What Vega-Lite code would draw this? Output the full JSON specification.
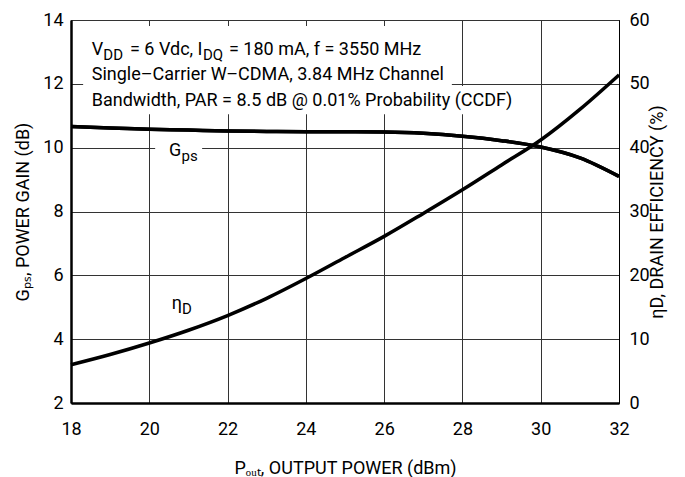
{
  "$schema": "https://vega.github.io/schema/vega-lite/v6.json",
  "autosize": {"type": "none"},
  "padding": {"left": 71, "top": 20, "right": 66, "bottom": 74},
  "width": 548,
  "height": 383,
  "background": "white",
  "config": {
    "view": {"stroke": "black", "strokeWidth": 1},
    "font": "Roboto",
    "axis": {
      "labelFont": "Roboto",
      "labelFontSize": 18,
      "labelColor": "black",
      "titleFont": "Roboto",
      "titleFontSize": 18,
      "titleFontWeight": "normal",
      "titleColor": "black",
      "ticks": false,
      "labelFlush": false,
      "labelOverlap": false,
      "gridColor": "#333333",
      "gridWidth": 1,
      "gridOpacity": 1,
      "domainColor": "black"
    }
  },
  "datasets": {
    "curves": [
      {"pout": 18, "gps": 10.66, "eff": 6.0},
      {"pout": 19, "gps": 10.62, "eff": 7.6},
      {"pout": 20, "gps": 10.58, "eff": 9.4},
      {"pout": 21, "gps": 10.55, "eff": 11.4},
      {"pout": 22, "gps": 10.52, "eff": 13.7},
      {"pout": 23, "gps": 10.51, "eff": 16.4},
      {"pout": 24, "gps": 10.50, "eff": 19.5},
      {"pout": 25, "gps": 10.50, "eff": 22.8},
      {"pout": 26, "gps": 10.49, "eff": 26.1},
      {"pout": 27, "gps": 10.45, "eff": 29.7},
      {"pout": 28, "gps": 10.36, "eff": 33.4},
      {"pout": 29, "gps": 10.22, "eff": 37.3},
      {"pout": 30, "gps": 10.02, "eff": 41.2},
      {"pout": 31, "gps": 9.68, "eff": 46.0},
      {"pout": 32, "gps": 9.10, "eff": 51.4}
    ],
    "boxes": [
      {"x1": 18.31, "x2": 27.73, "y1": 13.81, "y2": 11.93},
      {"x1": 18.31, "x2": 29.47, "y1": 11.93, "y2": 11.05},
      {"x1": 20.15, "x2": 21.35, "y1": 10.30, "y2": 9.46}
    ],
    "notes": [
      {"t": "V", "x": 18.529, "y": 12.912, "k": "main"},
      {"t": "= 6 Vdc, I", "x": 19.507, "y": 12.912, "k": "main"},
      {"t": "= 180 mA, f = 3550 MHz", "x": 22.037, "y": 12.912, "k": "main"},
      {"t": "Single–Carrier W–CDMA, 3.84 MHz Channel", "x": 18.529, "y": 12.128, "k": "main"},
      {"t": "Bandwidth, PAR = 8.5 dB @ 0.01% Probability (CCDF)", "x": 18.529, "y": 11.295, "k": "main"},
      {"t": "G", "x": 20.504, "y": 9.738, "k": "main"},
      {"t": "η", "x": 20.573, "y": 4.932, "k": "main"},
      {"t": "DD", "x": 18.825, "y": 12.912, "k": "sub"},
      {"t": "DQ", "x": 21.372, "y": 12.912, "k": "sub"},
      {"t": "ps", "x": 20.823, "y": 9.738, "k": "sub"},
      {"t": "D", "x": 20.836, "y": 4.932, "k": "sub"}
    ]
  },
  "layer": [
    {
      "layer": [
        {
          "data": {"name": "curves"},
          "mark": {"type": "line", "color": "black", "strokeWidth": 3.5, "interpolate": "monotone"},
          "encoding": {
            "x": {
              "field": "pout", "type": "quantitative",
              "scale": {"domain": [18, 32]},
              "axis": {
                "values": [18, 20, 22, 24, 26, 28, 30, 32],
                "grid": true,
                "domainWidth": 2.5,
                "labelPadding": 17,
                "title": "Pₒᵤₜ, OUTPUT POWER (dBm)",
                "titleY": 70,
                "titleBaseline": "alphabetic"
              }
            },
            "y": {
              "field": "gps", "type": "quantitative",
              "scale": {"domain": [2, 14]},
              "axis": {
                "values": [2, 4, 6, 8, 10, 12, 14],
                "grid": true,
                "domainWidth": 2.5,
                "labelPadding": 8,
                "title": "Gₚₛ, POWER GAIN (dB)",
                "titleAngle": 270,
                "titleX": -43,
                "titleY": 191.5,
                "titleAlign": "center",
                "titleBaseline": "alphabetic"
              }
            }
          }
        },
        {
          "data": {"name": "boxes"},
          "mark": {"type": "rect", "color": "white"},
          "encoding": {
            "x": {"field": "x1", "type": "quantitative", "scale": {"domain": [18, 32]}},
            "x2": {"field": "x2"},
            "y": {"field": "y1", "type": "quantitative", "scale": {"domain": [2, 14]}},
            "y2": {"field": "y2"}
          }
        },
        {
          "data": {"name": "curves"},
          "mark": {"type": "line", "color": "black", "strokeWidth": 3.5, "interpolate": "monotone"},
          "encoding": {
            "x": {"field": "pout", "type": "quantitative", "scale": {"domain": [18, 32]}},
            "y": {"field": "gps", "type": "quantitative", "scale": {"domain": [2, 14]}}
          }
        },
        {
          "data": {"name": "notes"},
          "transform": [{"filter": "datum.k === 'main'"}],
          "mark": {"type": "text", "align": "left", "baseline": "alphabetic", "fontSize": 18, "font": "Roboto", "color": "black"},
          "encoding": {
            "x": {"field": "x", "type": "quantitative", "scale": {"domain": [18, 32]}},
            "y": {"field": "y", "type": "quantitative", "scale": {"domain": [2, 14]}},
            "text": {"field": "t"}
          }
        },
        {
          "data": {"name": "notes"},
          "transform": [{"filter": "datum.k === 'sub'"}],
          "mark": {"type": "text", "align": "left", "baseline": "alphabetic", "fontSize": 15, "dy": 5, "font": "Roboto", "color": "black"},
          "encoding": {
            "x": {"field": "x", "type": "quantitative", "scale": {"domain": [18, 32]}},
            "y": {"field": "y", "type": "quantitative", "scale": {"domain": [2, 14]}},
            "text": {"field": "t"}
          }
        }
      ]
    },
    {
      "data": {"name": "curves"},
      "mark": {"type": "line", "color": "black", "strokeWidth": 3.5, "interpolate": "monotone"},
      "encoding": {
        "x": {"field": "pout", "type": "quantitative", "scale": {"domain": [18, 32]}},
        "y": {
          "field": "eff", "type": "quantitative",
          "scale": {"domain": [0, 60]},
          "axis": {
            "orient": "right",
            "values": [0, 10, 20, 30, 40, 50, 60],
            "grid": false,
            "domainWidth": 1,
            "labelPadding": 10,
            "title": "ηD, DRAIN EFFICIENCY (%)",
            "titleAngle": 270,
            "titleX": 43,
            "titleY": 191.5,
            "titleAlign": "center",
            "titleBaseline": "alphabetic"
          }
        }
      }
    }
  ],
  "resolve": {"scale": {"y": "independent"}}
}
